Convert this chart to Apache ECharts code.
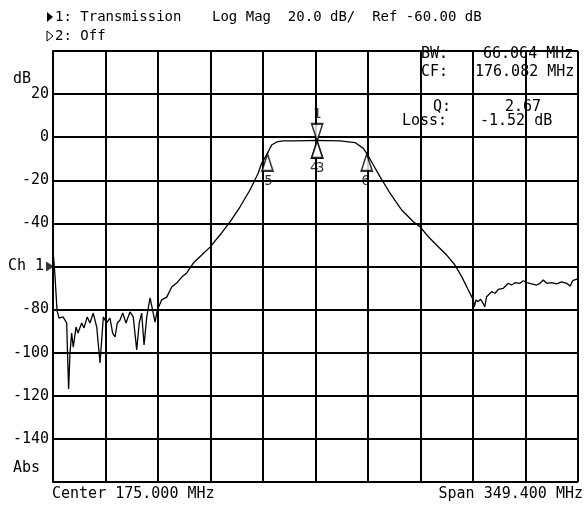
<!DOCTYPE html>
<html>
<head>
<meta charset="utf-8">
<script src="https://cdn.jsdelivr.net/npm/echarts@6/dist/echarts.min.js"></script>
<style>
  html, body { margin: 0; padding: 0; background: #fff; }
  #chart { width: 584px; height: 506px; }
</style>
</head>
<body>
<div id="chart"></div>
<script>
// Sweep settings
const CENTER_MHZ = 175.0;
const SPAN_MHZ = 349.4;
const START_MHZ = CENTER_MHZ - SPAN_MHZ / 2;   // 0.3 MHz
const DIV_MHZ = SPAN_MHZ / 10;
const REF_LEVEL_DB = -60;
const SCALE_DB = 20;

// Channel 1 transmission trace (MHz, dB)
const freqMHz = [
  0.3, 1.5, 3.0, 4.3, 7.0, 9.4, 10.1, 10.7, 11.6, 12.7, 13.8, 15.6, 16.9, 19.4,
  20.9, 23.1, 24.9, 27.1, 29.4, 31.6, 32.7, 33.8, 36.0, 38.2, 40.0, 41.6, 43.1,
  44.9, 46.7, 48.9, 51.5, 53.7, 56.0, 57.7, 59.3, 60.9, 62.7, 64.9, 66.6, 68.2,
  69.7, 72.6, 76.0, 79.3, 82.6, 86.0, 89.3, 93.7, 99.3, 104.8, 111.4, 118.1,
  124.7, 131.4, 136.9, 139.2, 143.05, 145.8, 149.2, 153.6, 162.5, 176.0, 191.3,
  201.3, 206.8, 209.11, 213.5, 217.9, 224.6, 232.4, 240.1, 244.5, 250.1, 256.7,
  262.3, 267.8, 272.3, 276.7, 280.0, 280.7, 281.8, 283.3, 284.9, 286.3, 287.6,
  288.9, 292.2, 294.5, 296.7, 300.0, 303.3, 305.6, 307.8, 311.1, 313.3, 315.6,
  318.9, 322.2, 324.4, 326.6, 328.9, 332.2, 335.5, 338.8, 342.2, 344.4, 346.2,
  348.8, 349.7
];
const magDB = [
  -52.3, -63.0, -80.5, -83.9, -83.4, -86.2, -103.4, -116.8, -100.1, -90.9, -97.4, -88.1, -90.9, -86.2,
  -88.5, -83.4, -86.2, -81.6, -88.1, -104.8, -94.1, -83.4, -86.2, -83.9, -90.9, -92.7, -86.2,
  -84.8, -81.6, -86.2, -81.1, -83.4, -98.7, -86.2, -81.6, -96.4, -83.4, -74.6, -80.2, -85.8,
  -80.2, -75.5, -74.2, -69.5, -67.7, -64.9, -63.0, -58.4, -54.7, -51.0, -45.4, -39.3,
  -32.4, -24.5, -16.6, -12.0, -7.52, -3.6, -2.2, -1.7, -1.7, -1.5, -1.7,
  -2.5, -5.2, -7.52, -12.9, -18.3, -26.0, -33.8, -39.2, -41.5, -46.2, -50.8,
  -54.7, -59.3, -64.7, -70.9, -75.5, -78.7, -75.5, -76.3, -75.2, -76.8, -78.7,
  -74.0, -71.7, -72.4, -70.6, -70.1, -67.8, -68.6, -67.5, -67.8, -66.6, -67.5,
  -68.1, -68.6, -67.8, -66.3, -67.8, -67.5, -68.1, -67.1, -67.8, -69.1, -66.6,
  -65.9, -66.3
];

// Bandwidth-search markers
const markerIds = ['1', '4', '3', '5', '6'];
const markerFreqMHz = [176.082, 176.082, 176.082, 143.05, 209.114];
const markerDB = [-1.52, -1.52, -1.52, -7.52, -7.52];

// Y tick labels (the reference level row is tagged with the channel name)
const yTickText = { '20': '20', '0': '0', '-20': '-20', '-40': '-40', '-60': '{ch|Ch 1}',
  '-80': '-80', '-100': '-100', '-120': '-120', '-140': '-140' };

const FONT = '"DejaVu Sans Mono", "Liberation Mono", monospace';
const INK = '#000';

const tracePts = freqMHz.map((f, i) => [f - START_MHZ, magDB[i]]);

function markerItem(i, symbolRotate, offsetY, labelPos, labelOffset) {
  return {
    value: [markerFreqMHz[i] - START_MHZ, markerDB[i]],
    symbolRotate: symbolRotate,
    symbolOffset: [0, offsetY],
    label: { show: true, formatter: markerIds[i], position: labelPos, offset: labelOffset }
  };
}

function txt(pos, s, size) {
  return Object.assign({ type: 'text', style: { text: s, font: (size || 15) + 'px ' + FONT, fill: INK } }, pos);
}

const chart = echarts.init(document.getElementById('chart'), null, { renderer: 'canvas' });

chart.setOption({
  animation: false,
  backgroundColor: '#fff',
  grid: { left: 53, right: 6, top: 51, bottom: 24, containLabel: false },
  xAxis: {
    type: 'value', min: 0, max: SPAN_MHZ, interval: DIV_MHZ,
    axisLine: { show: true, lineStyle: { color: INK, width: 2 } },
    axisTick: { show: false },
    axisLabel: { show: false },
    splitLine: { show: true, lineStyle: { color: INK, width: 2 } }
  },
  yAxis: {
    type: 'value', min: REF_LEVEL_DB - 5 * SCALE_DB, max: REF_LEVEL_DB + 5 * SCALE_DB,
    interval: SCALE_DB,
    axisLine: { show: true, lineStyle: { color: INK, width: 2 } },
    axisTick: { show: false },
    axisLabel: {
      color: INK, fontFamily: FONT, fontSize: 15, margin: 4,
      formatter: v => (yTickText[String(v)] !== undefined ? yTickText[String(v)] : ''),
      showMinLabel: false, showMaxLabel: false,
      rich: { ch: { fontFamily: FONT, fontSize: 15, color: INK, padding: [0, 5, 0, 0] } }
    },
    splitLine: { show: true, lineStyle: { color: INK, width: 2 } }
  },
  series: [
    {
      name: 'Transmission', type: 'line', data: tracePts, showSymbol: false,
      lineStyle: { color: INK, width: 1.3 }, z: 3
    },
    {
      // reference level pointer on the left edge
      name: 'Ref', type: 'scatter', data: [[0, REF_LEVEL_DB]],
      symbol: 'triangle', symbolSize: [10, 8], symbolRotate: -90, symbolOffset: [-3, 0],
      itemStyle: { color: INK }, z: 5
    },
    {
      name: 'Markers', type: 'scatter', symbol: 'triangle', symbolSize: [11, 17],
      itemStyle: { color: '#fff', borderColor: INK, borderWidth: 1.8 },
      label: { color: INK, fontFamily: FONT, fontSize: 14, distance: 1 },
      data: [
        markerItem(0, 180, -8, 'top', [0, 0]),
        markerItem(1, 0, 9, 'bottom', [-3, 1]),
        markerItem(2, 0, 9, 'bottom', [3, 1]),
        markerItem(3, 0, 9, 'bottom', [1, 1]),
        markerItem(4, 0, 9, 'bottom', [-1, 1])
      ],
      z: 4
    }
  ],
  graphic: [
    { type: 'polygon', shape: { points: [[47, 12], [47, 22], [53, 17]] }, style: { fill: INK } },
    txt({ left: 55, top: 10 }, '1: Transmission', 14),
    { type: 'polygon', shape: { points: [[47, 31], [47, 41], [53, 36]] }, style: { fill: '#fff', stroke: INK, lineWidth: 1 } },
    txt({ left: 55, top: 29 }, '2: Off', 14),
    txt({ left: 212, top: 10 }, 'Log Mag  20.0 dB/  Ref -60.00 dB', 14),
    txt({ left: 13, top: 72 }, 'dB'),
    txt({ left: 13, top: 461 }, 'Abs'),
    txt({ left: 52, top: 487 }, 'Center 175.000 MHz'),
    txt({ right: 1, top: 487 }, 'Span 349.400 MHz'),
    txt({ left: 421, top: 47 }, 'BW:'),
    txt({ left: 421, top: 65 }, 'CF:'),
    txt({ left: 483, top: 47 }, '66.064 MHz'),
    txt({ left: 475, top: 65 }, '176.082 MHz'),
    txt({ left: 433, top: 100 }, 'Q:'),
    txt({ left: 402, top: 114 }, 'Loss:'),
    txt({ left: 505, top: 100 }, '2.67'),
    txt({ left: 480, top: 114 }, '-1.52 dB')
  ]
});
</script>
</body>
</html>
